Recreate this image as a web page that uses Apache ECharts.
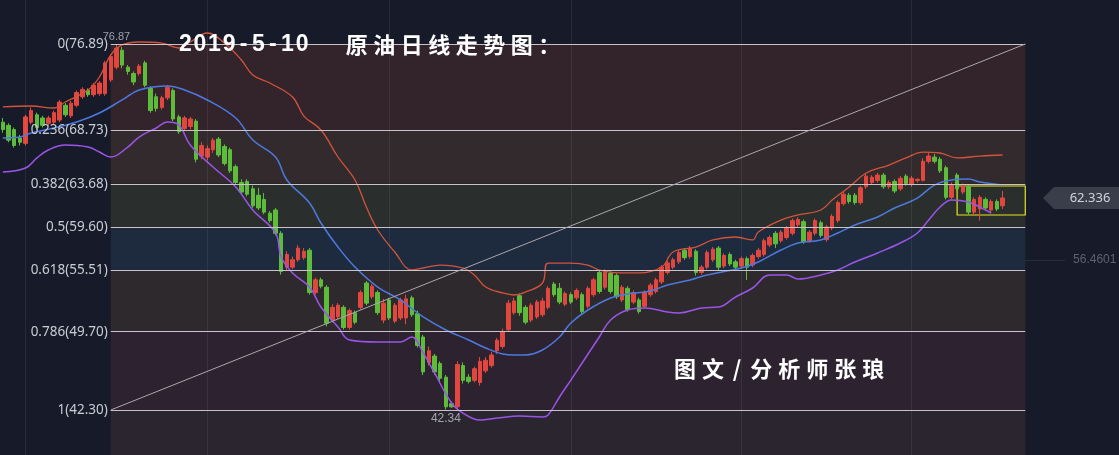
<!DOCTYPE html>
<html><head><meta charset="utf-8">
<script src="https://cdn.jsdelivr.net/npm/echarts@6/dist/echarts.min.js"></script>
<style>html,body{margin:0;padding:0;background:#171b29;}#c{width:1119px;height:455px;}</style>
</head><body><div id="c"></div>
<script>
// ---------- data ----------
const opens = [
69.5,69.2,68.8,68.0,67.5,69.5,70.2,69.9,69.4,69.5,
69.7,71.1,70.1,71.1,71.9,72.5,72.1,72.2,72.2,73.5,
74.7,76.3,74.7,74.1,74.1,75.1,72.7,71.9,70.9,71.8,
72.5,70.0,68.9,69.1,69.6,66.3,66.2,66.9,67.9,67.2,
66.9,65.3,63.8,63.9,63.2,62.6,62.2,60.9,61.2,59.0,
55.8,55.8,56.5,56.7,57.4,53.4,54.6,53.9,50.8,51.1,
52.0,50.1,51.5,52.0,54.3,53.0,53.4,50.8,52.7,50.7,
51.0,51.0,52.9,51.4,49.2,46.8,47.4,46.7,45.4,42.9,
42.6,46.5,45.4,45.1,44.9,46.0,46.5,47.9,48.3,49.9,
51.5,53.1,52.0,50.8,51.1,51.3,52.0,54.2,53.8,52.3,
53.2,52.9,53.2,52.1,53.2,55.3,53.9,55.2,55.0,52.7,
53.8,52.5,52.7,52.1,53.2,53.5,54.4,55.3,55.8,56.3,
57.4,56.8,57.3,55.3,55.8,56.5,57.6,55.9,57.0,56.3,
55.9,56.6,56.0,56.8,57.0,57.9,59.0,58.3,58.6,59.0,
59.8,60.1,58.3,59.0,60.0,58.4,59.5,60.2,61.8,62.6,
62.6,61.9,63.4,63.8,64.0,64.5,63.4,63.9,63.2,64.4,
63.6,64.0,64.0,65.8,66.2,66.0,65.2,62.4,64.5,62.9,
63.4,61.0,61.3,62.2,61.2,62.0,61.6];
const closes = [
68.8,67.8,67.3,67.6,70.0,70.6,69.0,69.2,69.9,70.4,
71.4,70.2,71.3,72.3,72.6,72.1,73.0,73.2,75.1,75.7,
76.5,74.9,74.3,73.3,74.8,73.0,70.6,70.8,71.8,72.8,
69.8,68.6,69.9,69.8,66.0,67.3,67.0,67.8,66.4,65.6,
64.9,63.8,62.9,62.7,61.6,61.4,61.0,60.2,59.0,55.4,
57.0,56.5,57.6,57.3,53.4,54.6,54.0,50.5,52.0,52.2,
50.1,51.7,50.6,53.4,52.4,54.0,51.5,52.4,51.0,52.2,
52.7,52.8,51.3,48.4,45.9,47.9,45.9,45.3,42.6,42.6,
46.6,45.1,45.0,46.2,46.9,47.0,47.5,48.9,49.7,52.4,
52.6,51.5,50.6,52.2,52.5,52.6,53.8,53.2,52.5,53.3,
52.5,53.6,51.6,53.8,54.6,53.5,55.3,53.5,53.0,53.9,
51.8,53.4,51.6,53.4,54.1,54.6,55.8,56.2,56.5,57.2,
56.7,57.6,55.3,55.8,57.2,57.5,55.8,56.9,56.1,55.8,
56.6,55.8,56.9,57.4,58.3,58.6,58.0,59.1,59.5,60.2,
60.3,58.2,59.1,60.2,58.8,59.6,60.6,61.9,62.7,62.0,
61.9,63.3,64.4,64.3,64.5,63.4,63.8,63.0,64.2,63.7,
64.2,64.1,65.8,66.3,65.8,64.9,62.4,63.6,63.2,63.5,
61.0,62.2,62.4,61.4,62.0,61.3,62.336];
const lows = [
68.5,67.6,67.1,67.3,67.3,69.3,68.8,69.0,69.2,69.3,
69.5,70.0,69.9,70.9,71.7,71.9,71.9,72.0,72.0,73.3,
74.5,74.6,74.0,73.0,73.9,72.8,70.4,70.5,70.7,71.6,
69.6,68.4,68.7,68.8,65.7,66.0,65.9,66.6,66.2,65.4,
64.7,63.6,62.7,62.5,61.4,61.2,60.8,60.0,58.8,55.1,
55.5,55.6,56.3,56.5,53.2,53.2,53.8,50.2,50.6,50.9,
49.9,49.9,50.4,51.8,52.2,52.8,51.3,50.5,50.8,50.5,
50.8,50.4,51.1,48.2,45.6,46.5,45.6,45.0,42.34,42.5,
42.4,44.8,44.8,44.9,44.6,45.8,46.3,47.6,48.1,49.7,
51.3,51.2,50.4,50.6,50.9,51.1,51.8,53.0,52.3,52.1,
52.3,52.7,51.4,51.9,53.0,53.3,53.7,53.3,52.8,52.5,
51.6,52.3,51.4,51.9,53.0,53.3,54.2,55.1,55.6,56.1,
56.5,56.6,55.0,55.1,55.6,56.3,55.5,55.7,55.9,55.6,
55.7,54.6,55.8,56.6,56.8,57.7,57.6,58.1,58.4,58.8,
59.6,58.0,58.1,58.8,58.6,58.2,59.3,60.0,61.6,61.8,
61.7,61.7,63.2,63.6,63.8,63.2,63.2,62.8,63.0,63.5,
63.4,63.8,63.9,65.6,65.6,64.7,62.2,62.2,63.0,62.7,
60.8,60.8,60.2,61.2,61.0,61.1,61.3];
const highs = [
69.9,69.4,69.0,68.3,70.2,70.9,70.4,70.1,70.1,70.6,
71.6,71.3,71.5,72.5,72.8,72.7,73.2,73.4,75.3,75.9,
76.87,76.6,74.9,74.3,75.0,75.3,72.9,72.2,72.0,73.0,
72.7,70.2,70.1,70.0,69.8,67.6,67.3,68.0,68.1,67.4,
67.1,65.5,64.1,64.1,63.5,63.3,62.8,61.1,61.4,59.2,
57.3,56.8,57.9,57.6,57.6,54.8,54.8,54.1,52.3,52.4,
52.2,51.9,51.7,53.6,54.5,54.2,53.6,52.8,52.9,52.4,
52.9,53.2,53.1,51.7,49.4,48.3,47.6,46.9,45.6,43.1,
46.9,46.8,45.7,46.4,47.3,47.3,47.8,49.1,50.0,52.7,
52.9,53.3,52.2,52.4,52.7,52.9,54.0,54.4,54.3,53.5,
53.4,53.8,53.4,54.0,54.8,55.5,55.6,55.4,55.2,54.1,
54.0,53.6,52.9,53.6,54.3,54.8,56.0,56.4,56.7,57.4,
57.6,57.8,57.5,56.0,57.4,57.7,57.8,57.1,57.2,56.5,
56.8,56.8,57.1,57.6,58.5,58.8,59.2,59.3,59.7,60.4,
60.5,60.3,59.3,60.4,60.2,59.8,60.8,62.1,62.9,62.8,
62.8,63.5,64.6,64.5,64.7,64.7,64.0,64.1,64.4,64.6,
64.4,64.2,66.1,66.6,66.5,66.2,65.4,63.8,64.7,63.7,
63.6,62.4,62.6,62.4,62.2,62.2,63.0];

// Bollinger bands as [candle index, price]
const upperBand = [[0,70.94],[5,71.03],[9,70.84],[11,71.41],[15,72.54],[17,73.77],[19,75.85],[21,76.80],[24,77.08],[28,76.98],[31,76.51],[33,77.08],[36,77.93],[39,76.98],[42,75.38],[44,73.96],[47,73.20],[51,71.88],[53,70.08],[56,68.76],[59,66.21],[62,64.04],[64,61.48],[66,59.31],[69,57.23],[72,55.53],[74,55.72],[77,56.00],[81,55.72],[83,55.06],[85,53.92],[88,53.36],[90,53.17],[92,53.45],[95,54.30],[96,56.19],[100,56.19],[103,56.00],[105,55.53],[109,55.25],[112,55.25],[116,55.81],[118,57.23],[122,57.70],[125,58.37],[129,58.65],[132,58.37],[133,59.12],[137,60.25],[140,60.73],[144,61.20],[146,62.15],[149,63.38],[152,64.70],[156,65.45],[159,66.12],[162,66.68],[165,66.59],[168,66.12],[172,66.30],[176,66.40]];
const midBand = [[0,68.01],[3,68.10],[5,68.48],[9,68.95],[13,69.52],[17,70.37],[21,71.60],[24,72.54],[29,72.92],[32,72.54],[36,71.60],[41,69.90],[44,67.82],[48,66.21],[50,64.04],[54,61.86],[56,59.97],[59,57.70],[62,55.81],[66,53.92],[70,52.70],[74,51.09],[78,49.86],[82,48.92],[85,48.16],[88,47.59],[90,47.50],[92,47.50],[95,47.97],[98,49.20],[100,50.52],[103,51.75],[107,52.88],[110,53.26],[114,53.55],[117,54.11],[121,54.59],[124,55.06],[130,55.72],[133,56.29],[137,57.42],[140,58.08],[144,58.37],[147,59.03],[150,59.78],[154,60.54],[157,61.39],[161,62.33],[164,63.56],[167,64.04],[170,64.13],[172,63.85],[176,63.56]];
const lowerBand = [[0,64.79],[4,65.17],[6,66.12],[8,66.87],[11,67.34],[15,67.15],[17,66.68],[19,66.21],[22,67.15],[24,68.10],[27,68.95],[29,69.52],[31,69.23],[33,67.34],[37,65.26],[41,63.38],[44,61.20],[48,59.03],[49,56.76],[51,55.25],[54,53.92],[56,52.03],[59,50.14],[61,48.92],[66,48.73],[70,48.73],[72,49.20],[74,47.69],[76,45.80],[79,42.96],[81,42.01],[84,41.35],[87,41.54],[91,41.73],[95,41.64],[96,41.83],[98,43.53],[100,45.13],[105,49.20],[107,50.81],[110,51.75],[113,51.94],[117,51.56],[119,51.47],[123,51.94],[126,52.03],[129,52.98],[132,53.83],[135,55.06],[138,55.06],[140,54.68],[144,55.06],[147,55.53],[150,56.29],[154,57.14],[158,58.08],[161,59.03],[163,60.25],[165,61.48],[167,62.15],[170,61.96],[172,61.48],[174,60.92]];

// Fibonacci retracement
const fibRatios = ['0','0.236','0.382','0.5','0.618','0.786','1'];
const fibPrices = [76.89, 68.73, 63.68, 59.60, 55.51, 49.70, 42.30];
const fibStartIdx = 19, fibEndIdx = 180;
const gridIdx = [4, 36, 68, 100, 130, 160];
const slotCount = 197;
const highLabel = [20, 76.87], lowLabel = [78, 42.34];
const markerPrice = 56.4601;
const boxRange = [168, 180, 63.47, 60.73];

// ---------- styles ----------
const bandColors = ['#33232b','#322a2c','#2a2f2d','#1e2b3e','#2e292d','#2c2230','#2b2530'];
const UP = '#e2473f', DOWN = '#5dbd3b';

const cats = Array.from({length: slotCount}, (_, i) => String(i));
const candleData = opens.map((o, i) => [o, closes[i], lows[i], highs[i]]);
const yMin = 38.047, yMax = 81.048;

const bandAreas = fibPrices.map((p, k) => {
  const bottom = k < fibPrices.length - 1 ? fibPrices[k + 1] : yMin;
  return [{coord: [fibStartIdx, p], itemStyle: {color: bandColors[k]}}, {coord: [fibEndIdx, bottom]}];
});
const fibLines = fibPrices.map((p, k) => [
  {coord: [fibStartIdx, p], name: fibRatios[k] + '(' + p.toFixed(2) + ')'},
  {coord: [fibEndIdx, p]}
]);

const chart = echarts.init(document.getElementById('c'), null, {renderer: 'canvas'});
chart.setOption({
  backgroundColor: '#171b29',
  animation: false,
  grid: {left: 0, right: 0, top: 0, bottom: 0},
  xAxis: {type: 'category', data: cats, boundaryGap: true, show: false},
  yAxis: {type: 'value', min: yMin, max: yMax, show: false, splitLine: {show: false}},
  series: [
    {
      type: 'line', data: [], z: 1, silent: true,
      markArea: {silent: true, data: bandAreas},
      markLine: {
        silent: true, symbol: ['none', 'none'], label: {show: false},
        lineStyle: {color: 'rgba(255,255,255,0.07)', width: 1, type: 'solid'},
        data: gridIdx.map(i => ({xAxis: i}))
      }
    },
    {
      type: 'line', data: [], z: 2, silent: true,
      markLine: {
        silent: true, symbol: ['none', 'none'],
        lineStyle: {color: '#c9c3c9', width: 1, type: 'solid'},
        label: {show: true, position: 'start', formatter: '{b}', color: '#c9ccd4', fontSize: 13.5, fontFamily: 'Noto Sans', distance: 3},
        data: fibLines.concat([
          [{coord: [fibStartIdx, fibPrices[6]], label: {show: false}, lineStyle: {color: '#aca6ae'}}, {coord: [fibEndIdx, fibPrices[0]]}]
        ])
      }
    },
    {
      type: 'candlestick', z: 3, data: candleData, barWidth: 4, clip: false,
      itemStyle: {color: UP, color0: DOWN, borderColor: UP, borderColor0: DOWN, borderWidth: 1},
      markPoint: {
        silent: true, symbol: 'circle', symbolSize: 0,
        data: [
          {coord: highLabel, value: highLabel[1], label: {show: true, position: 'top', distance: 2, formatter: '76.87', color: '#9ca0aa', fontSize: 11}},
          {coord: lowLabel, value: lowLabel[1], label: {show: true, position: 'bottom', distance: 3, formatter: '42.34', color: '#a2a6b0', fontSize: 12}}
        ]
      }
    },
    {type: 'line', z: 4, data: upperBand, smooth: 0.4, showSymbol: false, connectNulls: true, lineStyle: {color: '#d4533c', width: 1.3}},
    {type: 'line', z: 4, data: midBand, smooth: 0.4, showSymbol: false, connectNulls: true, lineStyle: {color: '#4d79df', width: 1.5}},
    {type: 'line', z: 4, data: lowerBand, smooth: 0.4, showSymbol: false, connectNulls: true, lineStyle: {color: '#9a55e8', width: 1.5}},
    {
      type: 'line', data: [], z: 5, silent: true,
      markArea: {silent: true, itemStyle: {color: 'rgba(0,0,0,0)', borderColor: '#e6e21e', borderWidth: 1.2},
        data: [[{coord: [boxRange[0], boxRange[2]]}, {coord: [boxRange[1], boxRange[3]]}]]},
      markLine: {
        silent: true, symbol: ['none', 'none'],
        lineStyle: {color: 'rgba(255,255,255,0.08)', width: 1, type: 'solid'},
        label: {show: true, position: 'end', formatter: '{b}', color: '#5d6270', fontSize: 12, distance: 8},
        data: [[{coord: [fibEndIdx, markerPrice], name: String(markerPrice)}, {coord: [fibEndIdx + 7, markerPrice]}]]
      }
    }
  ]
});

// ---------- annotations ----------
const lastY = chart.convertToPixel({yAxisIndex: 0}, closes[closes.length - 1]);
const gfx = [];
gfx.push({type: 'polygon', z: 20, shape: {points: [[1043, lastY], [1054, lastY - 11], [1119, lastY - 11], [1119, lastY + 11], [1054, lastY + 11]]}, style: {fill: '#3a3e4a'}});
gfx.push({type: 'text', z: 21, x: 1090, y: lastY, style: {text: closes[closes.length - 1].toFixed(3), fill: '#cfd3db', font: '13px "Noto Sans"', align: 'center', verticalAlign: 'middle'}});

function placeChars(str, xStart, yc, step, font, narrowFactor) {
  let x = xStart;
  for (const ch of str) {
    const w = (ch === '/') ? step * narrowFactor : step;
    gfx.push({type: 'text', z: 30, x: x + w / 2, y: yc, style: {text: ch, fill: '#ffffff', font: font, align: 'center', verticalAlign: 'middle'}});
    x += w;
  }
}
placeChars('2019-5-10', 178, 45, 14.6, 'bold 23px "Liberation Sans"', 1);
placeChars('原油日线走势图：', 343, 45, 27.5, 'bold 22px "Noto Sans CJK SC"', 1);
placeChars('图文/分析师张琅', 671, 369, 28, 'bold 22px "Noto Sans CJK SC"', 0.72);
chart.setOption({graphic: gfx});
</script></body></html>
